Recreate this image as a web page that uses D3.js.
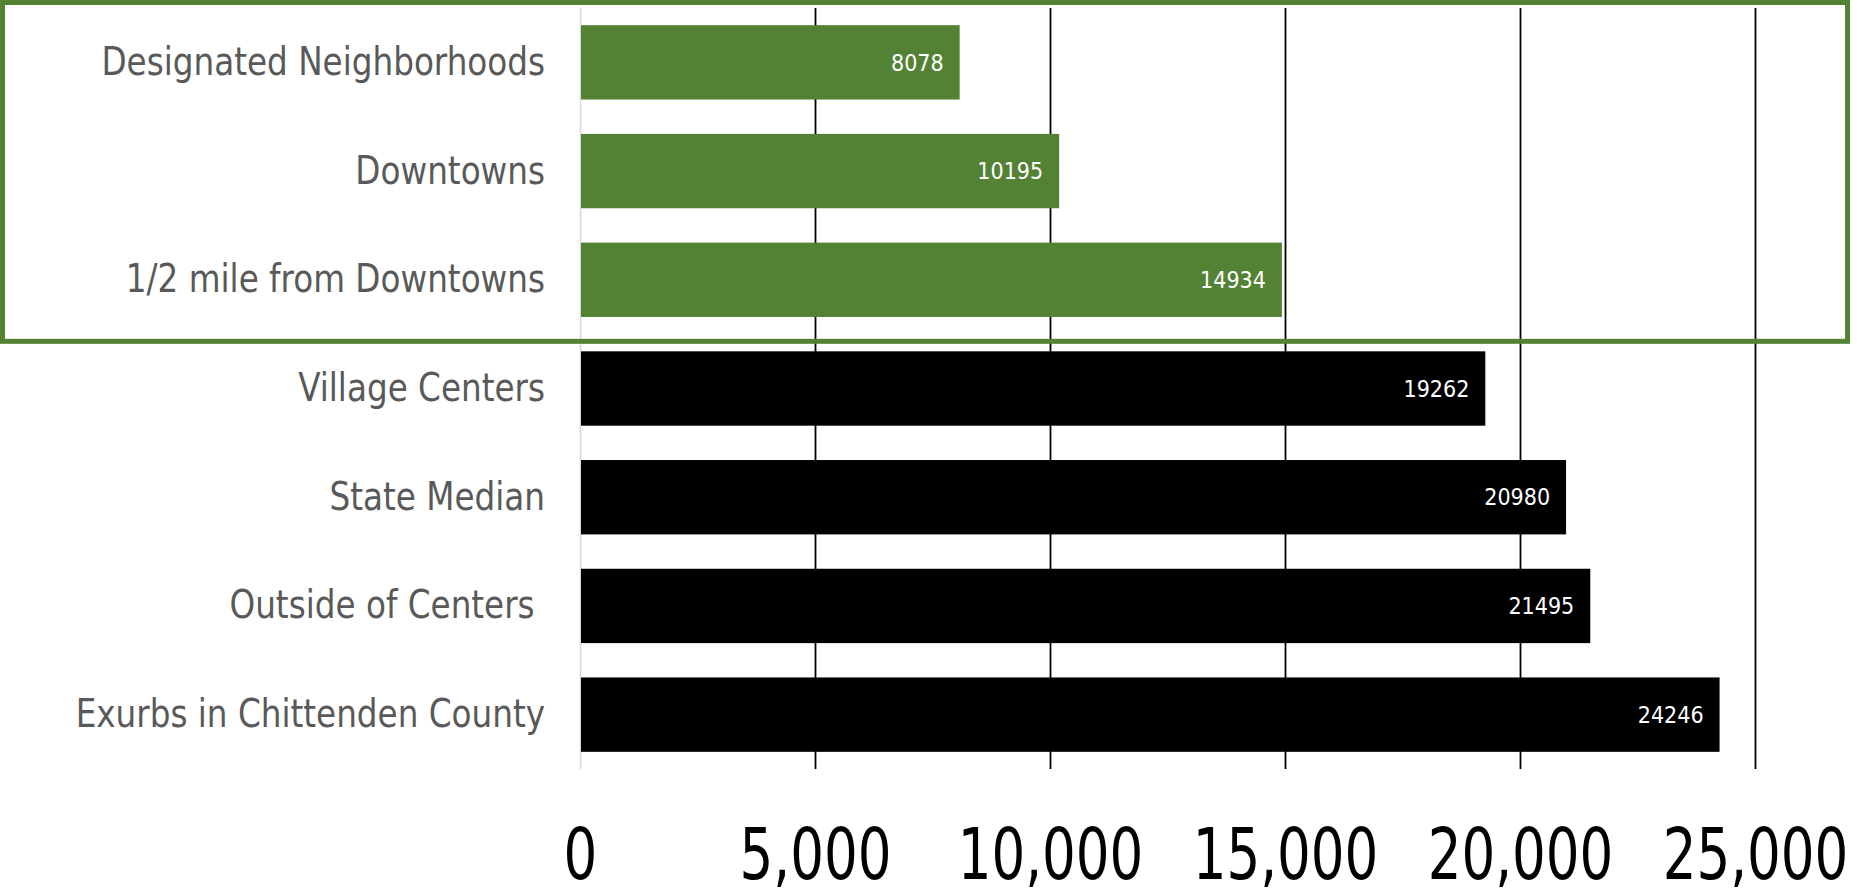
<!DOCTYPE html>
<html>
<head>
<meta charset="utf-8">
<script src="https://cdn.jsdelivr.net/npm/d3@7"></script>
<style>
  body { margin: 0; background: #fff; }
  svg { display: block; }
</style>
</head>
<body>
<div id="chart"></div>
<script>
// data
const categories = [
  "Designated Neighborhoods",
  "Downtowns",
  "1/2 mile from Downtowns",
  "Village Centers",
  "State Median",
  "Outside of Centers ",
  "Exurbs in Chittenden County"
];
const values = [8078, 10195, 14934, 19262, 20980, 21495, 24246];
const groups = ["center", "center", "center", "other", "other", "other", "other"];
const tickValues = [0, 5000, 10000, 15000, 20000, 25000];

const width = 1857;
const height = 890;
const margin = {top: 8, right: 102, bottom: 121, left: 580};
const innerWidth = width - margin.left - margin.right;
const innerHeight = height - margin.top - margin.bottom;

const font = "'DejaVu Sans Condensed', 'DejaVu Sans', sans-serif";

const data = categories.map((c, i) => ({name: c, value: values[i], group: groups[i]}));

const svg = d3.select("#chart")
  .append("svg")
  .attr("width", width)
  .attr("height", height);

const chart = svg.append("g")
  .attr("transform", `translate(${margin.left}, ${margin.top})`);

const x = d3.scaleLinear()
  .domain([0, 25000])
  .range([0, innerWidth]);

const y = d3.scaleBand()
  .domain(categories)
  .range([0, innerHeight])
  .paddingInner(0.316)
  .paddingOuter(0.158);

const color = d3.scaleOrdinal()
  .domain(["center", "other"])
  .range(["#548235", "#000000"]);

// vertical gridlines
const grid = chart.append("g")
  .attr("transform", `translate(0, ${innerHeight})`)
  .call(d3.axisBottom(x).tickValues(tickValues.slice(1)).tickSize(-innerHeight).tickFormat(""));
grid.select(".domain").remove();
grid.selectAll(".tick line")
  .attr("stroke", "#000")
  .attr("stroke-width", 1.8);

// x tick labels
const xAxis = chart.append("g")
  .attr("transform", `translate(0, ${innerHeight})`)
  .call(d3.axisBottom(x).tickValues(tickValues).tickSize(0).tickFormat(d3.format(",")));
xAxis.select(".domain").remove();
xAxis.selectAll("text")
  .attr("y", 0)
  .attr("dy", "0.36em")
  .attr("transform", "translate(0, 85) scale(1, 1.2)")
  .attr("fill", "#000")
  .style("font-family", font)
  .style("font-size", "59px");

// category axis
const yAxis = chart.append("g")
  .call(d3.axisLeft(y).tickSize(0).tickSizeOuter(0).tickPadding(35));
yAxis.select(".domain")
  .attr("stroke", "#d9d9d9")
  .attr("stroke-width", 1.6);
yAxis.selectAll("text")
  .attr("fill", "#595959")
  .attr("transform", "scale(1, 1.08)")
  .style("white-space", "pre")
  .style("font-family", font)
  .style("font-size", "36.3px");

// bars
chart.selectAll(".bar")
  .data(data)
  .enter()
  .append("rect")
  .attr("class", "bar")
  .attr("x", x(0) + 1)
  .attr("y", d => y(d.name))
  .attr("width", d => x(d.value) - x(0) - 1)
  .attr("height", y.bandwidth())
  .attr("fill", d => color(d.group));

// value labels inside the bar ends
chart.selectAll(".label")
  .data(data)
  .enter()
  .append("text")
  .attr("class", "label")
  .attr("x", d => x(d.value) - 16)
  .attr("y", d => y(d.name) + y.bandwidth() / 2)
  .attr("dy", "0.36em")
  .attr("text-anchor", "end")
  .attr("fill", "#fff")
  .style("font-family", font)
  .style("font-size", "23px")
  .text(d => d.value);

// green highlight box round the first three rows
const boxBottom = margin.top + y(categories[3]) - 10;
svg.append("rect")
  .attr("x", 2.5)
  .attr("y", 2.5)
  .attr("width", margin.left + x(25000) + 92.5 - 2.5)
  .attr("height", boxBottom - 2.5)
  .attr("fill", "none")
  .attr("stroke", "#548235")
  .attr("stroke-width", 5);
</script>
</body>
</html>
